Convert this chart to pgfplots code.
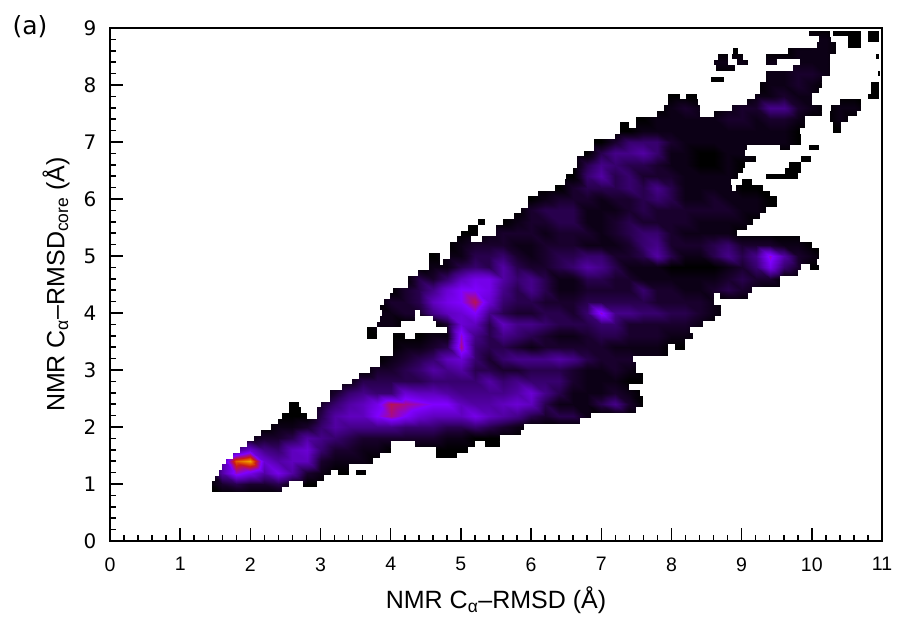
\documentclass[border=0pt]{standalone}
\usepackage{fontspec}
\setmainfont{Liberation Sans}
\newfontfamily\dejavu{DejaVu Sans}
\usepackage{pgfplots}
\pgfplotsset{compat=1.18}
% density grid: x = 1.4 + 0.2*i (i = 0..48), one \gridrow per y; values are given from index #2, all others are 0
\newcount\ci
\def\coords{}
\newcommand\addpt[2]{%
  \pgfmathsetmacro\px{1.4+0.2*\the\ci}%
  \xdef\coords{\coords (\px,#1) [#2]}%
  \global\advance\ci by 1\relax}
\newcommand\gridrow[3]{%
  \global\ci=0\relax
  \loop\ifnum\ci<#2\relax \addpt{#1}{0}\repeat
  \foreach \v in {#3}{\addpt{#1}{\v}}%
  \loop\ifnum\ci<49\relax \addpt{#1}{0}\repeat}
\gridrow{0.8}{0}{0}
\gridrow{1.0}{1}{2,3,2,2,3,1}
\gridrow{1.2}{1}{6,11,9,6,9,6,2,1}
\gridrow{1.4}{1}{6,16,18,8,6,7,7,2,1,1,1}
\gridrow{1.6}{2}{5,8,5,4,7,8,4,2,2,1,1}
\gridrow{1.8}{3}{1,2,2,3,6,5,4,3,2,2,2,2,2,2,1,1}
\gridrow{2.0}{5}{1,1,2,4,6,5,5,5,5,4,4,4,3,3,4,3,2,1}
\gridrow{2.2}{8}{3,6,7,7,10,12,10,8,7,7,7,9,7,6,5,3,2,3,3,1}
\gridrow{2.4}{8}{2,4,6,7,9,13,12,11,10,10,7,6,6,7,8,7,3,1,1,1,3,5,2}
\gridrow{2.6}{9}{2,4,5,4,4,8,7,7,6,5,5,5,5,6,8,5,3,1,1,1,2,1}
\gridrow{2.8}{10}{1,3,3,3,3,3,4,4,4,4,6,4,5,4,4,4,2,1,1,1}
\gridrow{3.0}{12}{2,2,3,4,6,5,6,3,3,2,2,3,3,3,2,1,1,2,1}
\gridrow{3.2}{13}{1,2,3,4,7,8,4,2,4,5,5,5,6,5,3,2,2,2,1,1}
\gridrow{3.4}{14}{1,1,2,3,12,4,3,3,2,1,2,2,2,2,2,1,1,1,1}
\gridrow{3.6}{16}{1,1,11,5,3,5,4,3,2,1,1,2,3,3,2,2,2,1,1}
\gridrow{3.8}{12}{1,1,0,0,0,2,8,7,3,7,5,5,4,3,3,3,4,4,2,2,2,2,2,1}
\gridrow{4.0}{12}{1,1,2,2,5,7,8,10,5,3,2,2,3,3,2,4,11,5,5,4,4,3,3,2,1}
\gridrow{4.2}{13}{2,2,3,7,9,10,13,8,4,3,3,2,2,2,3,3,3,3,3,2,2,2,2,1}
\gridrow{4.4}{14}{2,3,5,8,10,10,9,5,3,5,3,1,1,2,2,2,2,4,2,2,1,1,2,3,2,1}
\gridrow{4.6}{15}{3,2,4,7,9,9,6,4,5,3,1,1,3,3,2,2,1,1,1,1,1,1,2,3,2,2}
\gridrow{4.8}{16}{1,1,3,4,3,6,3,2,2,3,4,6,5,3,1,1,1,0,0,0,0,1,2,4,9,4,2}
\gridrow{5.0}{17}{1,1,3,3,4,2,1,2,3,3,4,4,2,2,3,6,3,1,1,3,5,3,5,11,6,2,1}
\gridrow{5.2}{18}{1,2,2,2,1,1,2,2,2,1,1,1,2,4,5,2,2,2,3,4,2,2,2,1,1}
\gridrow{5.4}{20}{1,2,2,2,1,2,2,2,1,2,3,4,4,2,1,1,1,1}
\gridrow{5.6}{22}{1,2,2,3,3,1,1,2,3,2,2,2,2,1,1,1,1}
\gridrow{5.8}{23}{2,3,3,3,1,1,1,2,3,2,2,2,2,2,2,1,1}
\gridrow{6.0}{24}{1,2,2,2,1,2,2,3,4,3,1,1,2,1,1,1}
\gridrow{6.2}{26}{2,3,3,3,4,3,5,3,1,1,1,1}
\gridrow{6.4}{27}{4,6,3,4,2,2,2,1,1,1,1}
\gridrow{6.6}{27}{3,5,4,3,3,2,1,1,0,0,1}
\gridrow{6.8}{28}{3,5,5,6,4,1,1,0,0,1,1}
\gridrow{7.0}{29}{2,4,4,4,2,1,1,1,1,1,1,1,1}
\gridrow{7.2}{31}{1,1,1,1,1,1,1,1,1,1,1}
\gridrow{7.4}{32}{1,1,1,1,1,2,2,1,2,2,1,0,0,1}
\gridrow{7.6}{33}{1,2,1,0,1,2,2,5,5,2,1,0,1,1}
\gridrow{7.8}{39}{1,1,2,1,1}
\gridrow{8.0}{40}{1,1,2,1}
\gridrow{8.2}{40}{1,1,2,2,1}
\gridrow{8.4}{36}{1,1,1,0,1,1,1,1,1}
\gridrow{8.6}{42}{1,1,1}
\gridrow{8.8}{43}{1,1}
\gridrow{9.0}{0}{0}
\begin{document}
\begin{tikzpicture}
\begin{axis}[
  scale only axis, width=772pt, height=513pt,
  xmin=0, xmax=11, ymin=0, ymax=9,
  xtick={0,...,11}, ytick={0,...,9},
  minor x tick num=4, minor y tick num=4,
  xtick pos=bottom, ytick pos=left,
  tick align=inside,
  major tick length=13pt, minor tick length=6.5pt,
  tick style={black, line width=1.5pt},
  axis line style={line width=1.7pt},
  axis on top,
  unbounded coords=jump,
  colormap={heat}{rgb255(0)=(0,0,0) rgb255(2)=(25,0,45) rgb255(4)=(55,0,110) rgb255(7)=(95,0,190) rgb255(10)=(128,0,255) rgb255(12)=(165,10,140) rgb255(14)=(200,25,25) rgb255(16)=(225,90,0) rgb255(18)=(240,165,0)},
  point meta min=0, point meta max=18,
  xticklabel style={font=\fontsize{19.5}{22}\selectfont, /pgf/number format/assume math mode=true, yshift=-13pt},
  yticklabel style={font=\dejavu\fontsize{20}{22}\selectfont, /pgf/number format/assume math mode=true, xshift=-10pt},
  xlabel={NMR C\textsubscript{α}–RMSD (Å)},
  ylabel={NMR C\textsubscript{α}–RMSD\textsubscript{core} (Å)},
  xlabel style={font=\fontsize{25}{28}\selectfont, at={(axis description cs:0.5,0)}, anchor=north, yshift=-42pt},
  ylabel style={font=\fontsize{25}{28}\selectfont, at={(axis description cs:0,0.5)}, anchor=south, yshift=37pt},
]
\edef\doplot{\noexpand\addplot[surf, shader=interp, mesh/cols=49, mesh/rows=42, mesh/ordering=x varies, point meta=explicit] coordinates {\coords};}
\doplot
\addplot[white, line width=6pt, line cap=butt, forget plot] coordinates {
(1.3,.8)(11,.8)(nan,nan)
(1.3,.9)(1.45,.9)(nan,nan)(2.45,.9)(11,.9)(nan,nan)
(1.3,1)(1.45,1)(nan,nan)(2.55,1)(2.75,1)(nan,nan)(2.95,1)(11,1)(nan,nan)
(1.3,1.1)(1.5,1.1)(nan,nan)(3.05,1.1)(11,1.1)(nan,nan)
(1.3,1.2)(1.55,1.2)(nan,nan)(3.15,1.2)(3.25,1.2)(nan,nan)(3.4,1.2)(3.5,1.2)(nan,nan)(3.65,1.2)(11,1.2)(nan,nan)
(1.3,1.3)(1.6,1.3)(nan,nan)(3.4,1.3)(11,1.3)(nan,nan)
(1.3,1.4)(1.65,1.4)(nan,nan)(3.75,1.4)(11,1.4)(nan,nan)
(1.3,1.5)(1.75,1.5)(nan,nan)(3.85,1.5)(4.65,1.5)(nan,nan)(4.95,1.5)(11,1.5)(nan,nan)
(1.3,1.6)(1.85,1.6)(nan,nan)(4,1.6)(4.65,1.6)(nan,nan)(5.1,1.6)(11,1.6)(nan,nan)
(1.3,1.7)(1.95,1.7)(nan,nan)(4,1.7)(4.35,1.7)(nan,nan)(5.2,1.7)(5.35,1.7)(nan,nan)(5.55,1.7)(11,1.7)(nan,nan)
(1.3,1.8)(2.05,1.8)(nan,nan)(5.55,1.8)(11,1.8)(nan,nan)
(1.3,1.9)(2.15,1.9)(nan,nan)(5.85,1.9)(11,1.9)(nan,nan)
(1.3,2)(2.3,2)(nan,nan)(5.9,2)(11,2)(nan,nan)
(1.3,2.1)(2.4,2.1)(nan,nan)(6.7,2.1)(11,2.1)(nan,nan)
(1.3,2.2)(2.45,2.2)(nan,nan)(2.8,2.2)(2.95,2.2)(nan,nan)(6.85,2.2)(11,2.2)(nan,nan)
(1.3,2.3)(2.55,2.3)(nan,nan)(2.72,2.3)(2.95,2.3)(nan,nan)(7.5,2.3)(11,2.3)(nan,nan)
(1.3,2.4)(2.55,2.4)(nan,nan)(2.7,2.4)(3,2.4)(nan,nan)(7.6,2.4)(11,2.4)(nan,nan)
(1.3,2.5)(3.13,2.5)(nan,nan)(7.6,2.5)(11,2.5)(nan,nan)
(1.3,2.6)(3.13,2.6)(nan,nan)(7.55,2.6)(11,2.6)(nan,nan)
(1.3,2.7)(3.3,2.7)(nan,nan)(7.4,2.7)(11,2.7)(nan,nan)
(1.3,2.8)(3.45,2.8)(nan,nan)(7.6,2.8)(11,2.8)(nan,nan)
(1.3,2.9)(3.55,2.9)(nan,nan)(7.6,2.9)(11,2.9)(nan,nan)
(1.3,3)(3.7,3)(nan,nan)(7.5,3)(11,3)(nan,nan)
(1.3,3.1)(3.85,3.1)(nan,nan)(7.5,3.1)(11,3.1)(nan,nan)
(1.3,3.2)(3.85,3.2)(nan,nan)(7.45,3.2)(11,3.2)(nan,nan)
(1.3,3.3)(4.03,3.3)(nan,nan)(7.95,3.3)(11,3.3)(nan,nan)
(1.3,3.4)(4.03,3.4)(nan,nan)(7.95,3.4)(8.05,3.4)(nan,nan)(8.2,3.4)(11,3.4)(nan,nan)
(1.3,3.5)(4.03,3.5)(nan,nan)(8.2,3.5)(11,3.5)(nan,nan)
(1.3,3.6)(3.66,3.6)(nan,nan)(3.8,3.6)(4.03,3.6)(nan,nan)(4.2,3.6)(4.34,3.6)(nan,nan)(8.3,3.6)(11,3.6)(nan,nan)
(1.3,3.7)(3.66,3.7)(nan,nan)(3.8,3.7)(4.8,3.7)(nan,nan)(8.27,3.7)(11,3.7)(nan,nan)
(1.3,3.8)(3.8,3.8)(nan,nan)(4.15,3.8)(4.65,3.8)(nan,nan)(8.45,3.8)(11,3.8)(nan,nan)
(1.3,3.9)(3.85,3.9)(nan,nan)(4.34,3.9)(4.6,3.9)(nan,nan)(8.62,3.9)(11,3.9)(nan,nan)
(1.3,4)(3.87,4)(nan,nan)(4.34,4)(4.42,4)(nan,nan)(8.7,4)(11,4)(nan,nan)
(1.3,4.1)(3.85,4.1)(nan,nan)(8.7,4.1)(11,4.1)(nan,nan)
(1.3,4.2)(3.9,4.2)(nan,nan)(8.6,4.2)(11,4.2)(nan,nan)
(1.3,4.3)(3.99,4.3)(nan,nan)(8.6,4.3)(8.69,4.3)(nan,nan)(9.09,4.3)(11,4.3)(nan,nan)
(1.3,4.4)(4.03,4.4)(nan,nan)(9.15,4.4)(11,4.4)(nan,nan)
(1.3,4.5)(4.25,4.5)(nan,nan)(9.55,4.5)(11,4.5)(nan,nan)
(1.3,4.6)(4.25,4.6)(nan,nan)(9.55,4.6)(11,4.6)(nan,nan)
(1.3,4.7)(4.39,4.7)(nan,nan)(9.8,4.7)(11,4.7)(nan,nan)
(1.3,4.8)(4.55,4.8)(nan,nan)(9.85,4.8)(9.97,4.8)(nan,nan)(10.1,4.8)(11,4.8)(nan,nan)
(1.3,4.9)(4.55,4.9)(nan,nan)(4.7,4.9)(4.75,4.9)(nan,nan)(10.08,4.9)(11,4.9)(nan,nan)
(1.3,5)(4.55,5)(nan,nan)(4.7,5)(4.85,5)(nan,nan)(10.1,5)(11,5)(nan,nan)
(1.3,5.1)(4.84,5.1)(nan,nan)(10.1,5.1)(11,5.1)(nan,nan)
(1.3,5.2)(4.84,5.2)(nan,nan)(10,5.2)(11,5.2)(nan,nan)
(1.3,5.3)(4.95,5.3)(nan,nan)(5.15,5.3)(5.3,5.3)(nan,nan)(9.83,5.3)(11,5.3)(nan,nan)
(1.3,5.4)(5,5.4)(nan,nan)(5.25,5.4)(5.5,5.4)(nan,nan)(8.93,5.4)(11,5.4)(nan,nan)
(1.3,5.5)(5.1,5.5)(nan,nan)(5.25,5.5)(5.5,5.5)(nan,nan)(9.07,5.5)(11,5.5)(nan,nan)
(1.3,5.6)(5.25,5.6)(nan,nan)(5.35,5.6)(5.6,5.6)(nan,nan)(9.16,5.6)(11,5.6)(nan,nan)
(1.3,5.7)(5.75,5.7)(nan,nan)(9.26,5.7)(11,5.7)(nan,nan)
(1.3,5.8)(5.85,5.8)(nan,nan)(9.35,5.8)(11,5.8)(nan,nan)
(1.3,5.9)(5.95,5.9)(nan,nan)(9.5,5.9)(11,5.9)(nan,nan)
(1.3,6)(5.96,6)(nan,nan)(9.5,6)(11,6)(nan,nan)
(1.3,6.1)(6.1,6.1)(nan,nan)(9.4,6.1)(11,6.1)(nan,nan)
(1.3,6.2)(6.34,6.2)(nan,nan)(8.86,6.2)(8.92,6.2)(nan,nan)(9.3,6.2)(11,6.2)(nan,nan)
(1.3,6.3)(6.48,6.3)(nan,nan)(8.85,6.3)(9,6.3)(nan,nan)(9.15,6.3)(11,6.3)(nan,nan)
(1.3,6.4)(6.5,6.4)(nan,nan)(8.95,6.4)(9.35,6.4)(nan,nan)(9.8,6.4)(11,6.4)(nan,nan)
(1.3,6.5)(6.6,6.5)(nan,nan)(9.02,6.5)(9.62,6.5)(nan,nan)(9.85,6.5)(11,6.5)(nan,nan)
(1.3,6.6)(6.65,6.6)(nan,nan)(9.05,6.6)(9.68,6.6)(nan,nan)(9.85,6.6)(11,6.6)(nan,nan)
(1.3,6.7)(6.65,6.7)(nan,nan)(9.2,6.7)(9.85,6.7)(nan,nan)(9.99,6.7)(11,6.7)(nan,nan)
(1.3,6.8)(6.75,6.8)(nan,nan)(9.05,6.8)(11,6.8)(nan,nan)
(1.3,6.9)(6.9,6.9)(nan,nan)(9.07,6.9)(9.55,6.9)(nan,nan)(9.69,6.9)(9.96,6.9)(nan,nan)(10.1,6.9)(11,6.9)(nan,nan)
(1.3,7)(6.9,7)(nan,nan)(9.85,7)(11,7)(nan,nan)
(1.3,7.1)(7.2,7.1)(nan,nan)(9.85,7.1)(11,7.1)(nan,nan)
(1.3,7.2)(7.27,7.2)(nan,nan)(9.83,7.2)(10.3,7.2)(nan,nan)(10.42,7.2)(11,7.2)(nan,nan)
(1.3,7.3)(7.27,7.3)(nan,nan)(7.4,7.3)(7.5,7.3)(nan,nan)(9.9,7.3)(10.3,7.3)(nan,nan)(10.42,7.3)(11,7.3)(nan,nan)
(1.3,7.4)(7.5,7.4)(nan,nan)(9.9,7.4)(10.26,7.4)(nan,nan)(10.52,7.4)(11,7.4)(nan,nan)
(1.3,7.5)(7.8,7.5)(nan,nan)(8.4,7.5)(8.6,7.5)(nan,nan)(10.14,7.5)(10.26,7.5)(nan,nan)(10.64,7.5)(11,7.5)(nan,nan)
(1.3,7.6)(7.9,7.6)(nan,nan)(8.4,7.6)(8.86,7.6)(nan,nan)(10.14,7.6)(10.28,7.6)(nan,nan)(10.7,7.6)(11,7.6)(nan,nan)
(1.3,7.7)(7.95,7.7)(nan,nan)(8.38,7.7)(9.07,7.7)(nan,nan)(10,7.7)(10.4,7.7)(nan,nan)(10.7,7.7)(11,7.7)(nan,nan)
(1.3,7.8)(7.95,7.8)(nan,nan)(8.12,7.8)(8.21,7.8)(nan,nan)(8.36,7.8)(9.19,7.8)(nan,nan)(10,7.8)(10.8,7.8)(nan,nan)(10.96,7.8)(11,7.8)(nan,nan)
(1.3,7.9)(9.26,7.9)(nan,nan)(10.1,7.9)(10.85,7.9)(nan,nan)(10.96,7.9)(11,7.9)(nan,nan)
(1.3,8)(9.26,8)(nan,nan)(10.14,8)(10.85,8)(nan,nan)(10.96,8)(11,8)(nan,nan)
(1.3,8.1)(8.57,8.1)(nan,nan)(8.75,8.1)(9.35,8.1)(nan,nan)(10.14,8.1)(11,8.1)(nan,nan)
(1.3,8.2)(9.35,8.2)(nan,nan)(10.26,8.2)(10.94,8.2)(nan,nan)(10.97,8.2)(11,8.2)(nan,nan)
(1.3,8.3)(8.64,8.3)(nan,nan)(8.9,8.3)(9.73,8.3)(nan,nan)(10.26,8.3)(11,8.3)(nan,nan)
(1.3,8.4)(8.6,8.4)(nan,nan)(8.81,8.4)(8.93,8.4)(nan,nan)(9.09,8.4)(9.35,8.4)(nan,nan)(9.5,8.4)(9.83,8.4)(nan,nan)(10.26,8.4)(11,8.4)(nan,nan)
(1.3,8.5)(8.67,8.5)(nan,nan)(8.81,8.5)(8.86,8.5)(nan,nan)(9.02,8.5)(9.35,8.5)(nan,nan)(10.26,8.5)(10.92,8.5)(nan,nan)(10.96,8.5)(11,8.5)(nan,nan)
(1.3,8.6)(8.88,8.6)(nan,nan)(8.95,8.6)(9.66,8.6)(nan,nan)(10.35,8.6)(11,8.6)(nan,nan)
(1.3,8.7)(10.07,8.7)(nan,nan)(10.35,8.7)(10.52,8.7)(nan,nan)(10.7,8.7)(11,8.7)(nan,nan)
(1.3,8.8)(10.1,8.8)(nan,nan)(10.28,8.8)(10.52,8.8)(nan,nan)(10.7,8.8)(10.8,8.8)(nan,nan)(10.96,8.8)(11,8.8)(nan,nan)
(1.3,8.9)(9.96,8.9)(nan,nan)(10.26,8.9)(10.3,8.9)(nan,nan)(10.7,8.9)(10.8,8.9)(nan,nan)(10.96,8.9)(11,8.9)(nan,nan)
(1.3,9)(11,9)
};
\end{axis}
\node[anchor=center, font=\dejavu\fontsize{25}{28}\selectfont] at (-80pt,514pt) {(a)};
\useasboundingbox (-110pt,-78pt) rectangle (789pt,541pt);
\end{tikzpicture}
\end{document}
